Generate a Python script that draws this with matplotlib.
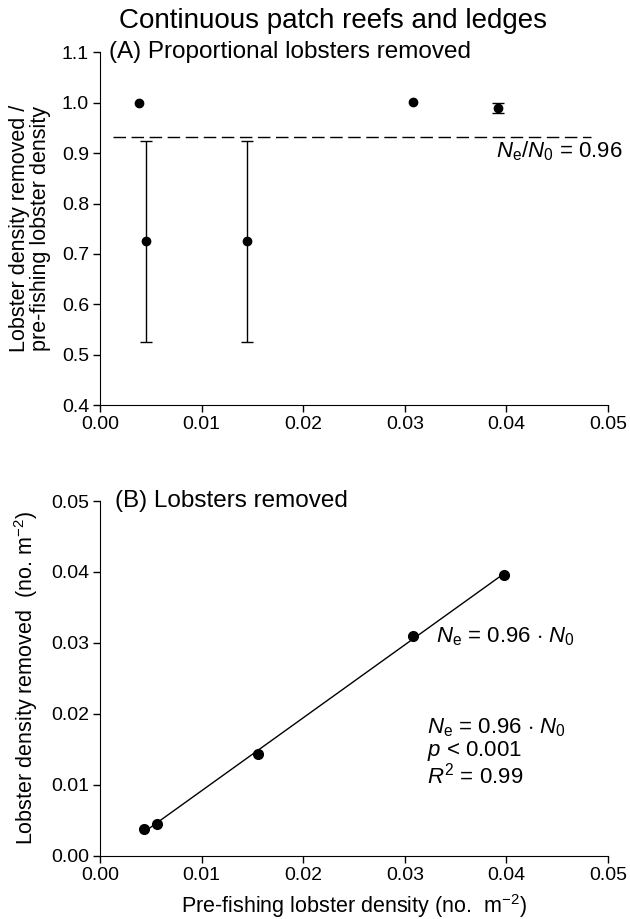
import numpy as np
import matplotlib
matplotlib.use("Agg")
import matplotlib.pyplot as plt

plt.rcParams["font.family"] = ["Liberation Sans", "DejaVu Sans"]
plt.rcParams["mathtext.fontset"] = "custom"
plt.rcParams["mathtext.rm"] = "Liberation Sans"
plt.rcParams["mathtext.it"] = "Liberation Sans:italic"

# (A) proportion removed
prop_x = [0.00384, 0.00453, 0.01441, 0.0308, 0.0392]
prop_y = [1.0, 0.725, 0.725, 1.001, 0.99]
prop_err = [0.0, 0.2, 0.2, 0.0, 0.01]
ref_ratio = 0.933
ref_x = [0.0013, 0.0483]

# (B) lobsters removed vs pre-fishing density
pre_x = [0.00433, 0.00558, 0.01559, 0.03081, 0.03973]
rem_y = [0.00377, 0.00447, 0.01434, 0.03099, 0.0396]

x_ticks = [0.00, 0.01, 0.02, 0.03, 0.04, 0.05]
yA_ticks = [0.4, 0.5, 0.6, 0.7, 0.8, 0.9, 1.0, 1.1]
yB_ticks = [0.00, 0.01, 0.02, 0.03, 0.04, 0.05]

fig = plt.figure(figsize=(6.3, 9.19), dpi=100)
axA = fig.add_axes([0.159, 0.5593, 0.806, 0.3836])
axB = fig.add_axes([0.159, 0.0689, 0.806, 0.3859])

for ax in (axA, axB):
    ax.spines["top"].set_visible(False)
    ax.spines["right"].set_visible(False)
    ax.tick_params(direction="out", length=5, width=1, labelsize=14, pad=3)
    ax.set_xlim(0, 0.05)
    ax.set_xticks(x_ticks)
    ax.set_xticklabels([f"{v:.2f}" for v in x_ticks])

# panel A: points with an error bar get one, the rest are plain dots
px = np.array(prop_x)
py = np.array(prop_y)
pe = np.array(prop_err)
has_err = pe > 0
axA.errorbar(px[has_err], py[has_err], yerr=pe[has_err], fmt="o", color="black",
             ms=6, capsize=4, elinewidth=1, capthick=1)
axA.plot(px[~has_err], py[~has_err], "o", color="black", ms=6)
axA.plot(ref_x, [ref_ratio, ref_ratio], color="black", lw=1, ls=(0, (9, 4)))
axA.set_ylim(0.4, 1.1)
axA.set_yticks(yA_ticks)
axA.set_yticklabels([f"{v:.1f}" for v in yA_ticks])
axA.text(0.017, 1.0, "(A) Proportional lobsters removed", transform=axA.transAxes,
         fontsize=17.5, va="center", ha="left")
axA.text(1.028, 0.719, r"$\mathit{N}_\mathrm{e}/\mathit{N}_0$ = 0.96", transform=axA.transAxes,
         fontsize=16, va="center", ha="right")
axA.set_ylabel("Lobster density removed /\npre-fishing lobster density",
               fontsize=15.5, labelpad=8, linespacing=1.0)

# panel B
slope, icpt = np.polyfit(pre_x, rem_y, 1)
fx = np.array([min(pre_x), max(pre_x)])
axB.plot(fx, slope * fx + icpt, color="black", lw=1)
axB.plot(pre_x, rem_y, "o", color="black", ms=7)
axB.set_ylim(0, 0.05)
axB.set_yticks(yB_ticks)
axB.set_yticklabels([f"{v:.2f}" for v in yB_ticks])
axB.text(0.03, 1.0, "(B) Lobsters removed", transform=axB.transAxes,
         fontsize=17.5, va="center", ha="left")
axB.text(0.0331, 0.0309, r"$\mathit{N}_\mathrm{e}$ = 0.96 $\cdot$ $\mathit{N}_0$",
         fontsize=16, va="center", ha="left")
axB.text(0.0322, 0.0196,
         r"$\mathit{N}_\mathrm{e}$ = 0.96 $\cdot$ $\mathit{N}_0$" "\n"
         r"$\mathit{p}$ < 0.001" "\n"
         r"$\mathit{R}^2$ = 0.99",
         fontsize=16, va="top", ha="left", linespacing=0.98)
axB.set_ylabel("Lobster density removed  (no. m$^{-2}$)", fontsize=15.5, labelpad=8)
axB.set_xlabel("Pre-fishing lobster density (no.  m$^{-2}$)", fontsize=15.5, labelpad=6)

fig.text(0.528, 0.977, "Continuous patch reefs and ledges", fontsize=20,
         ha="center", va="center")

fig.savefig("out.png", dpi=100)
